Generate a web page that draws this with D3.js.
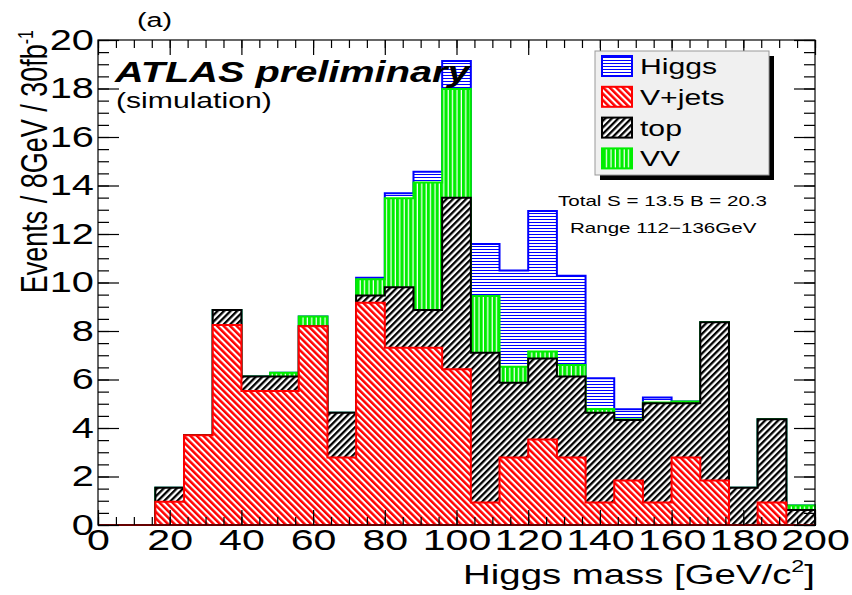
<!DOCTYPE html>
<html>
<head>
<meta charset="utf-8">
<script src="https://cdn.jsdelivr.net/npm/d3@7"></script>
<style>
  html, body { margin: 0; padding: 0; background: #fff; }
  svg { display: block; }
  text { font-family: "Liberation Sans", Arial, Helvetica, sans-serif; fill: #000; }
</style>
</head>
<body>
<svg id="chart" width="852" height="595"></svg>
<script>
// Lower bin edges (GeV), 8 GeV wide bins
const binLow = [0, 8, 16, 24, 32, 40, 48, 56, 64, 72, 80, 88, 96, 104, 112, 120, 128, 136, 144, 152, 160, 168, 176, 184, 192];
const binWidth = 8;

// Expected events per bin for each process (stack order: V+jets, top, VV, Higgs)
const vjets = [0, 0, 0.96, 3.70, 8.25, 5.53, 5.53, 8.20, 2.78, 9.17, 7.31, 7.31, 6.42, 0.93, 2.78, 3.53, 2.78, 0.93, 1.83, 0.93, 2.78, 1.83, 0, 0.93, 0];
const top_ = [0, 0, 0.58, 0, 0.62, 0.59, 0.59, 0, 1.85, 0.29, 2.49, 1.56, 7.08, 6.17, 3.09, 3.34, 3.34, 3.70, 2.50, 4.09, 2.24, 6.53, 1.54, 3.43, 0.62];
const vv = [0, 0, 0, 0, 0, 0, 0.16, 0.40, 0, 0.67, 3.67, 5.25, 4.48, 2.34, 0.66, 0.28, 0.48, 0.15, 0.03, 0.03, 0.07, 0, 0, 0, 0.18];
const higgs = [0, 0, 0, 0, 0, 0, 0, 0, 0, 0.07, 0.21, 0.45, 1.15, 2.15, 3.96, 5.80, 3.68, 1.27, 0.41, 0.21, 0, 0, 0, 0, 0];

const legendNames = ["Higgs", "V+jets", "top", "VV"];
const xTicks = [0, 20, 40, 60, 80, 100, 120, 140, 160, 180, 200];
const yTicks = [0, 2, 4, 6, 8, 10, 12, 14, 16, 18, 20];

const SX = 1.37; // horizontal widening of the lettering

const svg = d3.select("#chart");
const x = d3.scaleLinear().domain([0, 200]).range([98, 815]);
const y = d3.scaleLinear().domain([0, 20]).range([525, 40]);

// ---- hatch patterns ----
const defs = svg.append("defs");
function stripes(id, color, size, lineW, angle, bg) {
  const p = defs.append("pattern").attr("id", id)
    .attr("patternUnits", "userSpaceOnUse")
    .attr("width", size).attr("height", size)
    .attr("patternTransform", `rotate(${angle})`);
  p.append("rect").attr("width", size).attr("height", size).attr("fill", bg);
  p.append("rect").attr("x", 0).attr("y", 0).attr("width", lineW).attr("height", size).attr("fill", color);
}
stripes("hatch-higgs", "#0000ff", 3, 1, 90, "#fff");     // horizontal lines
stripes("hatch-vjets", "#ff0000", 4.6, 2.5, -45, "#fff"); // "\" lines
stripes("hatch-top", "#000000", 4.6, 2.3, 45, "#fff");    // "/" lines
stripes("hatch-vv", "#00ee00", 4.4, 3.2, 0, "#fff");      // vertical lines

// cumulative sums in stack order: V+jets, top, VV, Higgs
const stackOrder = [vjets, top_, vv, higgs];
const cumul = [];
let running = binLow.map(() => 0);
stackOrder.forEach(s => {
  running = running.map((r, i) => r + s[i]);
  cumul.push(running.slice());
});
// cumulative series to draw, biggest first
const drawList = [
  { cum: cumul[3], color: "#0000ff", pat: "hatch-higgs" },
  { cum: cumul[2], color: "#00ee00", pat: "hatch-vv" },
  { cum: cumul[1], color: "#000000", pat: "hatch-top" },
  { cum: cumul[0], color: "#ff0000", pat: "hatch-vjets" }
];

const area = d3.area()
  .x(d => x(d.x))
  .y0(y(0))
  .y1(d => y(d.v));

const histG = svg.append("g");
drawList.forEach(L => {
  const pts = [];
  binLow.forEach((lo, i) => {
    pts.push({ x: lo, v: L.cum[i] });
    pts.push({ x: lo + binWidth, v: L.cum[i] });
  });
  const d = area(pts);
  histG.append("path").attr("d", d).attr("fill", "#fff");
  histG.append("path").attr("d", d).attr("fill", `url(#${L.pat})`)
    .attr("stroke", L.color).attr("stroke-width", 2).attr("stroke-linejoin", "miter");
});

// ---- frame and axes ----
svg.append("rect").attr("x", x(0)).attr("y", y(20))
  .attr("width", x(200) - x(0)).attr("height", y(0) - y(20))
  .attr("fill", "none").attr("stroke", "#000").attr("stroke-width", 1.2);

const minorY = d3.range(0, 20.001, 0.5);
const minorX = d3.range(0, 200.001, 5);

function styleAxis(g) {
  g.select(".domain").remove();
  g.selectAll(".tick line").attr("stroke", "#000").attr("stroke-width", 1.2);
}

// left
svg.append("g").attr("transform", `translate(${x(0)},0)`)
  .call(d3.axisLeft(y).tickValues(minorY).tickSize(-11).tickFormat(""))
  .call(styleAxis);
const yAx = svg.append("g").attr("transform", `translate(${x(0)},0)`)
  .call(d3.axisLeft(y).tickValues(yTicks).tickSize(-21).tickPadding(3).tickFormat(d3.format("d")))
  .call(styleAxis);
yAx.selectAll(".tick text")
  .attr("font-size", 29).attr("font-family", "Liberation Sans, Arial, sans-serif")
  .attr("fill", "#000")
  .attr("transform", `scale(${SX},1)`);

// right
svg.append("g").attr("transform", `translate(${x(200)},0)`)
  .call(d3.axisRight(y).tickValues(minorY).tickSize(-11).tickFormat(""))
  .call(styleAxis);
svg.append("g").attr("transform", `translate(${x(200)},0)`)
  .call(d3.axisRight(y).tickValues(yTicks).tickSize(-21).tickFormat(""))
  .call(styleAxis);

// bottom
svg.append("g").attr("transform", `translate(0,${y(0)})`)
  .call(d3.axisBottom(x).tickValues(minorX).tickSize(-8).tickFormat(""))
  .call(styleAxis);
const xAx = svg.append("g").attr("transform", `translate(0,${y(0)})`)
  .call(d3.axisBottom(x).tickValues(xTicks).tickSize(-15).tickPadding(4).tickFormat(d3.format("d")))
  .call(styleAxis);
xAx.selectAll(".tick text")
  .attr("font-size", 30).attr("font-family", "Liberation Sans, Arial, sans-serif")
  .attr("fill", "#000")
  .attr("transform", `scale(${SX},1)`);

// top
svg.append("g").attr("transform", `translate(0,${y(20)})`)
  .call(d3.axisTop(x).tickValues(minorX).tickSize(-8).tickFormat(""))
  .call(styleAxis);
svg.append("g").attr("transform", `translate(0,${y(20)})`)
  .call(d3.axisTop(x).tickValues(xTicks).tickSize(-15).tickFormat(""))
  .call(styleAxis);

// ---- texts ----
function wideText(px, py, str, size, opts = {}) {
  const t = svg.append("text")
    .attr("transform", `translate(${px},${py}) scale(${SX},1)`)
    .attr("font-size", size)
    .attr("text-anchor", opts.anchor || "start");
  if (opts.weight) t.attr("font-weight", opts.weight);
  if (opts.style) t.attr("font-style", opts.style);
  t.text(str);
  return t;
}

// axis titles
const xt = svg.append("text")
  .attr("transform", `translate(815,584) scale(${SX},1)`)
  .attr("font-size", 28).attr("text-anchor", "end");
xt.append("tspan").text("Higgs mass [GeV/c");
xt.append("tspan").attr("font-size", 17).attr("dy", -12).text("2");
xt.append("tspan").attr("dy", 12).text("]");

const yt = svg.append("text")
  .attr("transform", `translate(47,30) scale(${SX},1) rotate(-90)`)
  .attr("font-size", 27).attr("text-anchor", "end");
yt.append("tspan").text("Events / 8GeV / 30fb");
yt.append("tspan").attr("font-size", 16).attr("dy", -10).text("-1");

wideText(137, 27, "(a)", 21);
wideText(115, 82, "ATLAS preliminary", 29, { weight: "bold", style: "italic" });
wideText(116, 108, "(simulation)", 22);
wideText(558, 206, "Total S = 13.5 B = 20.3", 15);
wideText(570, 233, "Range 112\u2212136GeV", 15);

// ---- legend ----
const leg = svg.append("g");
leg.append("rect").attr("x", 600).attr("y", 56).attr("width", 174).attr("height", 124).attr("fill", "#000");
leg.append("rect").attr("x", 595).attr("y", 51).attr("width", 174).attr("height", 124)
  .attr("fill", "#f0f0f0").attr("stroke", "#999").attr("stroke-width", 1);
const legendStyle = {
  "Higgs": { color: "#0000ff", pat: "hatch-higgs" },
  "V+jets": { color: "#ff0000", pat: "hatch-vjets" },
  "top": { color: "#000000", pat: "hatch-top" },
  "VV": { color: "#00ee00", pat: "hatch-vv" }
};
legendNames.forEach((name, i) => {
  const top = 56 + i * 30.8;
  const st = legendStyle[name];
  leg.append("rect").attr("x", 602).attr("y", top).attr("width", 30).attr("height", 20)
    .attr("fill", "#fff");
  leg.append("rect").attr("x", 602).attr("y", top).attr("width", 30).attr("height", 20)
    .attr("fill", `url(#${st.pat})`).attr("stroke", st.color).attr("stroke-width", 2);
  wideText(640, top + 18, name, 22);
});
</script>
</body>
</html>
